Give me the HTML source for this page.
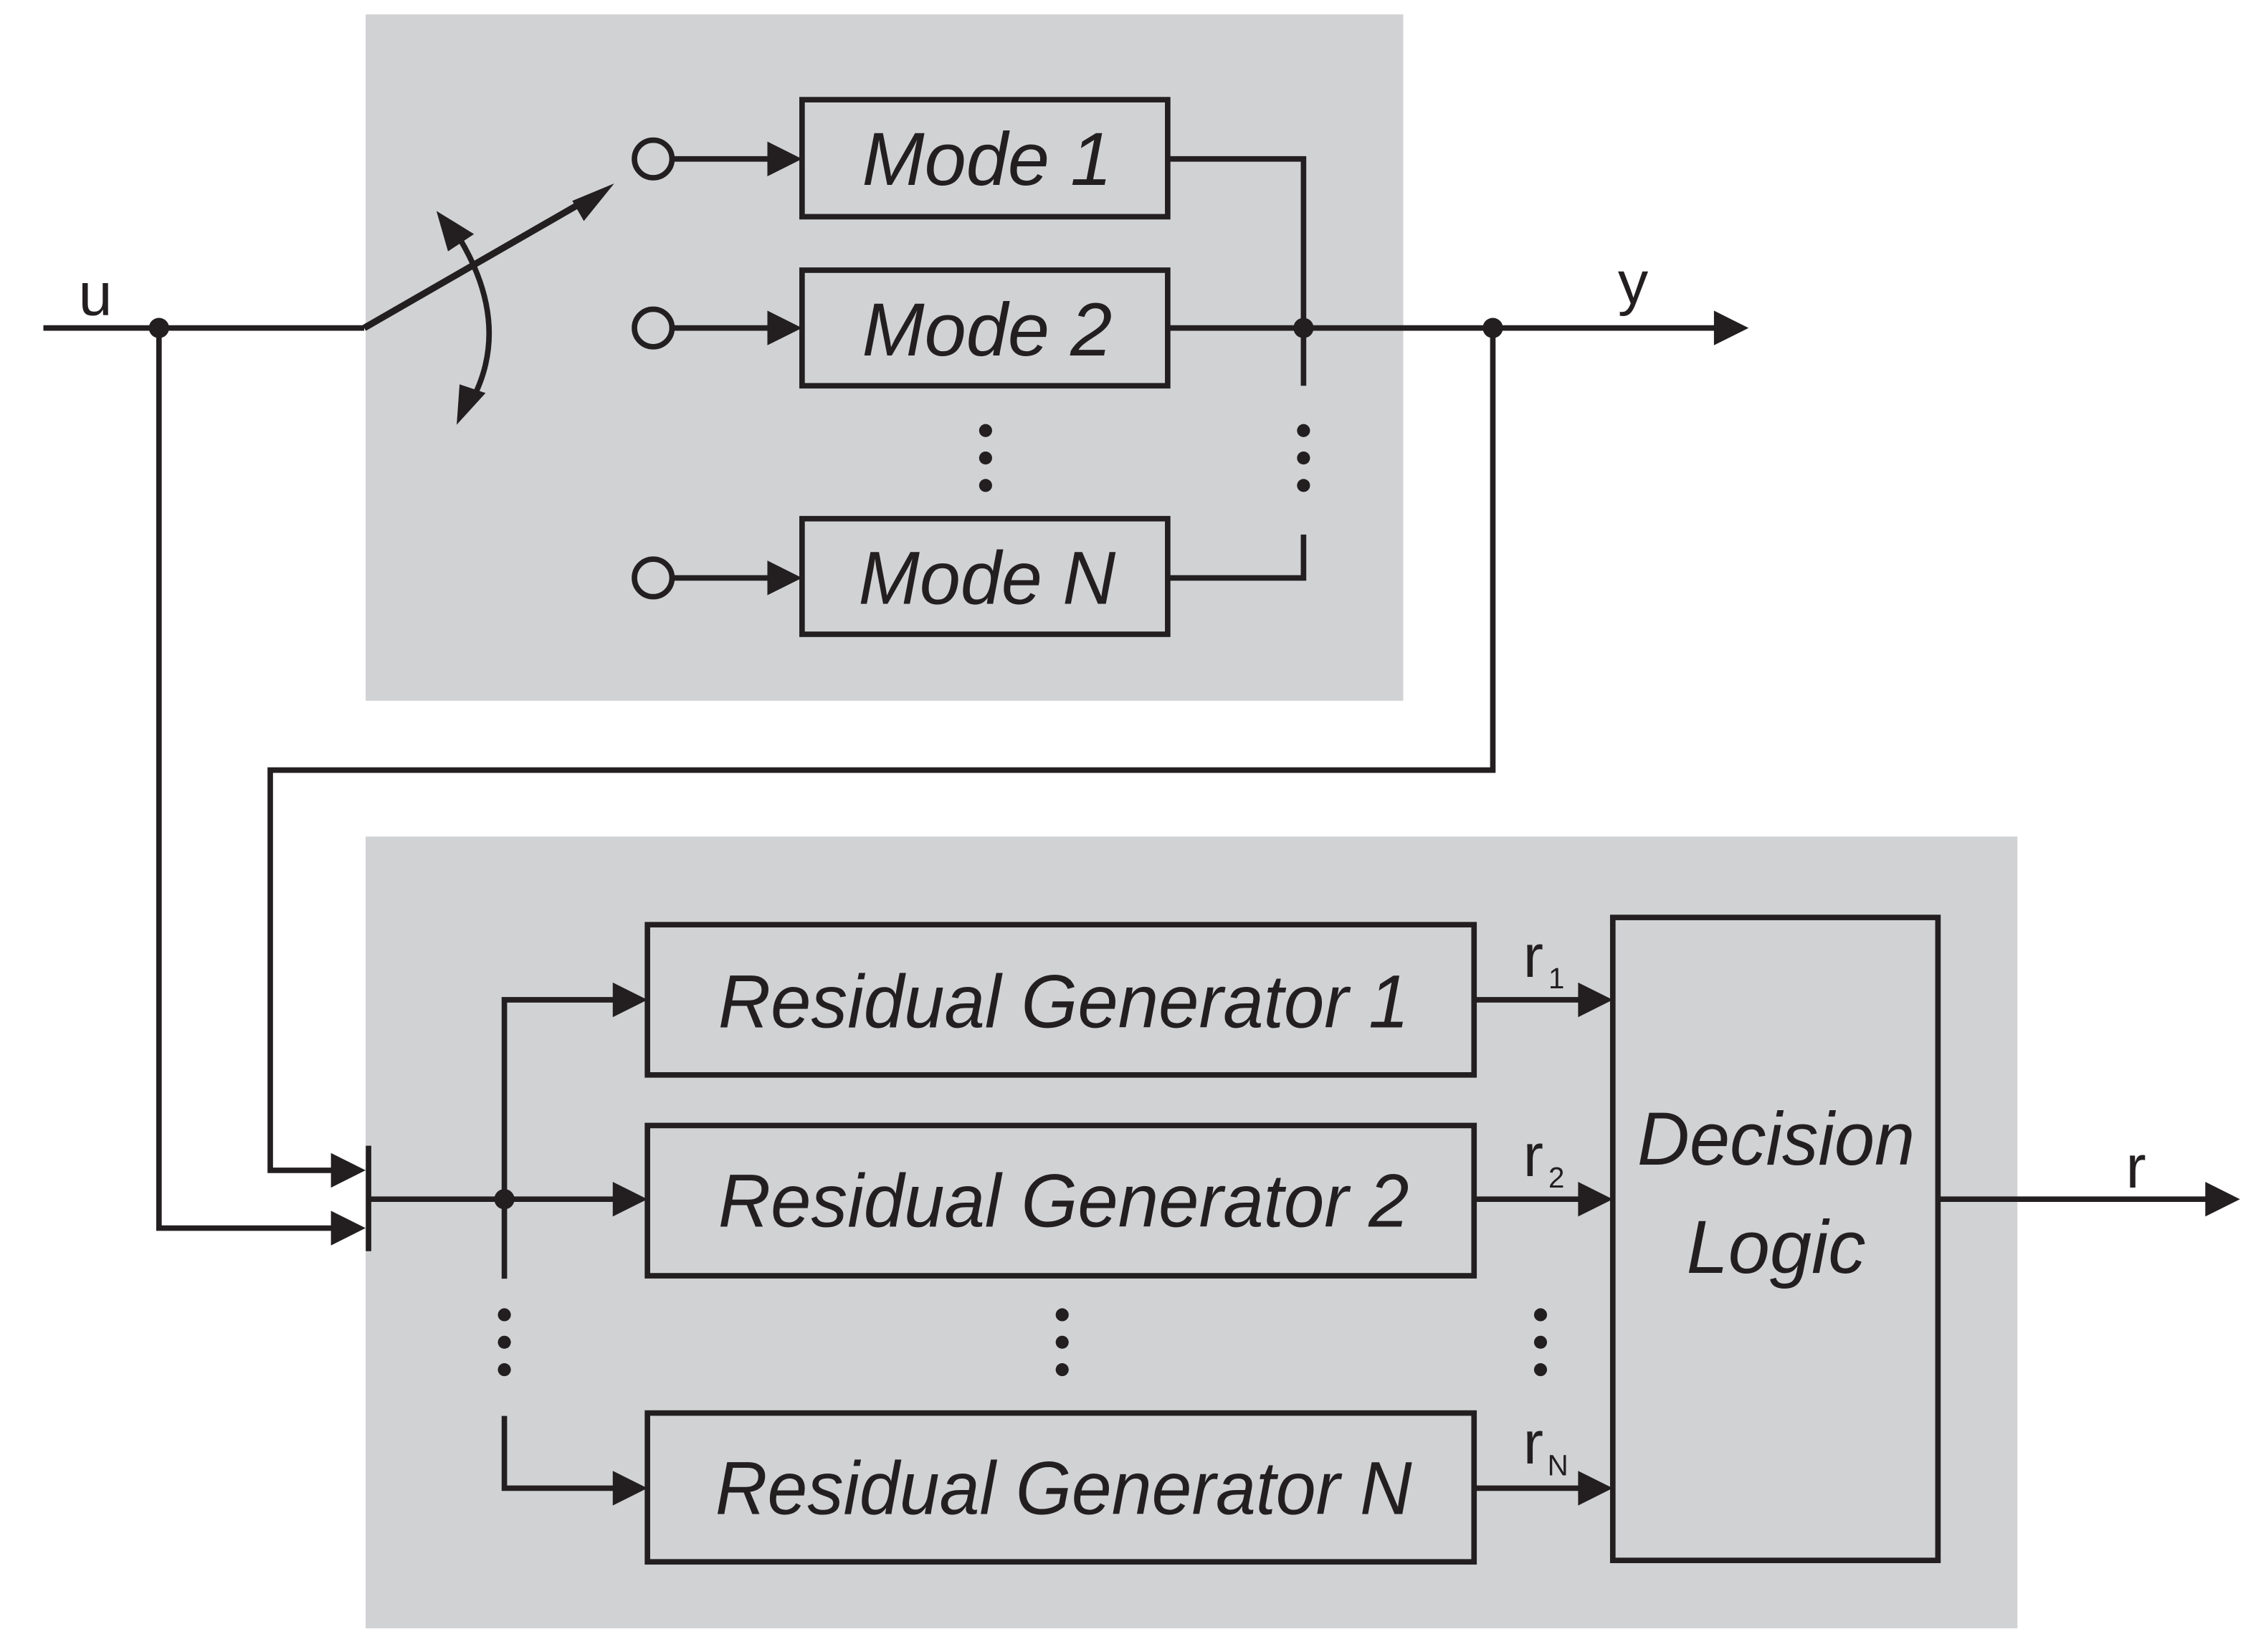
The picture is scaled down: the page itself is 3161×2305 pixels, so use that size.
<!DOCTYPE html>
<html><head><style>html,body{margin:0;padding:0;background:#fff}svg{display:block}</style></head><body>
<svg width="3161" height="2305" viewBox="0 0 1568 1143.4" xmlns="http://www.w3.org/2000/svg">
<g fill="#d1d2d4">
<rect x="253" y="10" width="718" height="475"/>
<rect x="253" y="579" width="1143" height="548"/>
</g>
<g stroke="#231f20" stroke-width="3.8" fill="none">
<line x1="30" y1="227" x2="252" y2="227"/>
<line x1="252" y1="227" x2="410" y2="136" stroke-width="4.6"/>
<path d="M425,127 L404,153 L396,139z" fill="#231f20" stroke="none"/>
<path d="M318,165 Q355,227 325,280" />
<path d="M302,146 L328,162 L310,174z" fill="#231f20" stroke="none"/>
<path d="M316,294 L318,266 L336,272z" fill="#231f20" stroke="none"/>
<circle cx="452" cy="110" r="13"/><circle cx="452" cy="227" r="13"/><circle cx="452" cy="400" r="13"/>
<rect x="555" y="69" width="253" height="81"/>
<rect x="555" y="187" width="253" height="80"/>
<rect x="555" y="359" width="253" height="80"/>
<polyline points="808,110 902,110 902,267"/>
<line x1="808" y1="227" x2="1200" y2="227"/>
<polyline points="808,400 902,400 902,370"/>
<polyline points="1033,227 1033,533 187,533 187,810 240,810"/>
<polyline points="110,227 110,850 240,850"/>
<line x1="255" y1="793" x2="255" y2="866"/>
<line x1="255" y1="830" x2="440" y2="830"/>
<polyline points="438,692 349,692 349,885"/>
<polyline points="349,980 349,1030 438,1030"/>
<rect x="448" y="640" width="572" height="104"/>
<rect x="448" y="779" width="572" height="104"/>
<rect x="448" y="978" width="572" height="103"/>
<rect x="1116" y="635" width="225" height="445"/>
<line x1="1020" y1="692" x2="1106" y2="692"/>
<line x1="1020" y1="830" x2="1106" y2="830"/>
<line x1="1020" y1="1030" x2="1106" y2="1030"/>
<line x1="1341" y1="830" x2="1540" y2="830"/>
<line x1="466" y1="110" x2="545" y2="110"/>
<line x1="466" y1="227" x2="545" y2="227"/>
<line x1="466" y1="400" x2="545" y2="400"/>
</g>
<g fill="#231f20">
<path d="M555,110 l-24,-12 v24z"/><path d="M555,227 l-24,-12 v24z"/><path d="M555,400 l-24,-12 v24z"/>
<path d="M1210,227 l-24,-12 v24z"/>
<path d="M253,810 l-24,-12 v24z"/><path d="M253,850 l-24,-12 v24z"/>
<path d="M448,692 l-24,-12 v24z"/><path d="M448,830 l-24,-12 v24z"/><path d="M448,1030 l-24,-12 v24z"/>
<path d="M1116,692 l-24,-12 v24z"/><path d="M1116,830 l-24,-12 v24z"/><path d="M1116,1030 l-24,-12 v24z"/>
<path d="M1550,830 l-24,-12 v24z"/>
<circle cx="110" cy="227" r="7"/><circle cx="902" cy="227" r="7"/><circle cx="1033" cy="227" r="7"/><circle cx="349" cy="830" r="7"/>
<g><circle cx="682" cy="298" r="4.5"/><circle cx="682" cy="317" r="4.5"/><circle cx="682" cy="336" r="4.5"/>
<circle cx="902" cy="298" r="4.5"/><circle cx="902" cy="317" r="4.5"/><circle cx="902" cy="336" r="4.5"/>
<circle cx="349" cy="910" r="4.5"/><circle cx="349" cy="929" r="4.5"/><circle cx="349" cy="948" r="4.5"/>
<circle cx="735" cy="910" r="4.5"/><circle cx="735" cy="929" r="4.5"/><circle cx="735" cy="948" r="4.5"/>
<circle cx="1066" cy="910" r="4.5"/><circle cx="1066" cy="929" r="4.5"/><circle cx="1066" cy="948" r="4.5"/></g>
</g>
<g font-family="Liberation Sans, sans-serif" fill="#231f20" font-size="52" text-anchor="middle">
<g font-style="italic" lengthAdjust="spacingAndGlyphs">
<text x="683" y="128" textLength="173" lengthAdjust="spacingAndGlyphs">Mode 1</text>
<text x="683" y="246" textLength="173" lengthAdjust="spacingAndGlyphs">Mode 2</text>
<text x="683" y="418" textLength="178" lengthAdjust="spacingAndGlyphs">Mode N</text>
<text x="736" y="711" textLength="478" lengthAdjust="spacingAndGlyphs">Residual Generator 1</text>
<text x="736" y="849" textLength="478" lengthAdjust="spacingAndGlyphs">Residual Generator 2</text>
<text x="736" y="1048" textLength="482" lengthAdjust="spacingAndGlyphs">Residual Generator N</text>
<text x="1229" y="806" textLength="192" lengthAdjust="spacingAndGlyphs">Decision</text>
<text x="1229" y="881" textLength="124" lengthAdjust="spacingAndGlyphs">Logic</text>
</g>
<text x="66" y="218" font-size="42">u</text>
<text x="1130" y="210" font-size="42">y</text>
<text x="1478" y="822" font-size="42">r</text>
<text x="1061" y="676" font-size="42">r</text><text x="1077" y="684" font-size="20">1</text>
<text x="1061" y="814" font-size="42">r</text><text x="1077" y="822" font-size="20">2</text>
<text x="1061" y="1013" font-size="42">r</text><text x="1078" y="1021" font-size="20">N</text>
</g>
</svg>
</body></html>
